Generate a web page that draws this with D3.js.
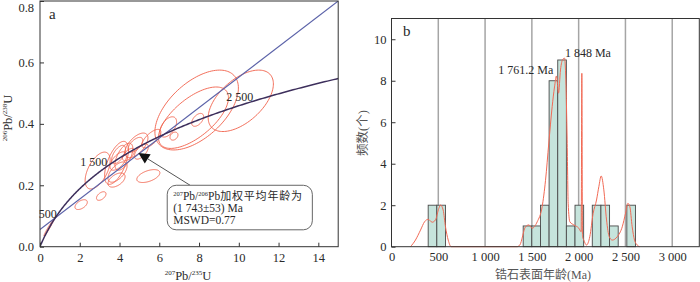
<!DOCTYPE html>
<html><head><meta charset="utf-8">
<script src="https://cdn.jsdelivr.net/npm/d3@7"></script>
<style>
body{margin:0;background:#fff}
</style></head>
<body><svg id="c" width="700" height="282"></svg>
<script>
// ---------- data: panel a (concordia) ----------
const xTicksA = [0,2,4,6,8,10,12,14];
const yTicksA = [0,0.2,0.4,0.6,0.8];
const concordiaAges = [500,1500,2500];            // Ma, labelled on curve
const concordiaLabels = ["500","1 500","2 500"];
const discordia = [[0,0.056],[15,0.80]];          // [207Pb/235U, 206Pb/238U]
// error ellipses: centre x, centre y, half-width x, half-width y, correlation
const ellCx  = [7.88,7.72,10.1,7.93,6.45,6.74,5.6,5.45,2.9,3.85,3.94,4.22,4.85,4.8,3.9,3.85,3.08,2.07,0.45,4.45,5.1,3.95];
const ellCy  = [0.445,0.42,0.475,0.413,0.39,0.36,0.352,0.23,0.248,0.273,0.279,0.293,0.33,0.332,0.243,0.217,0.165,0.137,0.062,0.30,0.31,0.30];
const ellAx  = [2.1,1.76,1.64,0.3,0.42,0.2,0.48,0.58,0.63,0.6,0.42,0.45,0.58,0.37,0.48,0.43,0.24,0.31,0.25,0.3,0.35,0.35];
const ellBy  = [0.13,0.10,0.10,0.021,0.033,0.013,0.03,0.021,0.06,0.07,0.03,0.044,0.04,0.024,0.033,0.023,0.014,0.016,0.027,0.02,0.025,0.03];
const ellRho = [0.55,0.65,0.55,0.5,0.5,0.3,0.7,0.5,0.55,0.6,0.6,0.6,0.6,0.6,0.6,0.5,0.5,0.5,0.98,0.6,0.6,0.6];
const arrowTail = [7.55,0.20], arrowTip = [4.95,0.305];
const boxLines = ["(1 743±53) Ma","MSWD=0.77"];

// ---------- data: panel b (histogram + KDE) ----------
const binLo = [392,484.3,576.6,668.9,761.2,853.5,945.8,1038.1,1130.4,1222.7,1315,1407.3,1499.6,1591.9,1684.2,1776.5,1868.8,1961.1,2053.4,2145.7,2238,2330.3,2422.6,2514.9];
const binWidth = 92.3;
const counts = [2,2,0,0,0,0,0,0,0,0,0,1,1,2,8,9,1,2,0,2,2,1,0,2];
const kdeAge = [203,256,310,353,392,435,470,506,524,552,577,606,638,
  1340,1371,1432,1468,1503,1557,1610,1646,1681,1717,1742,1763,1785,1806,1831,1849,1863,1877,1888,1906,1948,2002,2027,2034,2041,2055,2084,2119,2155,2191,2216,2241,2269,2298,2327,2359,2412,2466,2501,2526,2547,2572,2597,2626,2650];
const kdeVal = [0,0.32,0.8,1.2,1.32,1.18,1.29,1.85,2.01,1.77,0.96,0.32,0,
  0,0.08,0.96,1.05,0.89,1.2,1.93,3.2,5.0,6.75,7.7,8.23,7.4,8.52,9.04,9.09,8.04,5.15,2.09,1.2,1.05,0.89,0.72,8.36,0.5,0.32,0.08,0.48,1.61,2.25,2.9,3.41,2.74,1.29,0.48,0.32,0.48,0.96,1.61,2.09,1.93,0.96,0.32,0.08,0];
const xTicksB = [0,500,1000,1500,2000,2500,3000];
const xTickLabelsB = ["0","500","1 000","1 500","2 000","2 500","3 000"];
const yTicksB = [0,2,4,6,8,10];
const peakAges = [1761.2,1848];
const peakLabels = ["1 761.2 Ma","1 848 Ma"];

const SERIF = '"Liberation Serif","Times New Roman",Times,"DejaVu Serif",serif';
const CJK = '"Liberation Serif","Noto Sans CJK SC",serif';
const svg = d3.select("#c");

// ================= panel a =================
const xA = d3.scaleLinear().domain([0,15]).range([40,338.2]);
const yA = d3.scaleLinear().domain([0,0.8]).range([246.7,1]);
const gA = svg.append("g");
gA.append("clipPath").attr("id","clipA").append("rect")
  .attr("x",xA(0)).attr("y",yA(0.8)).attr("width",xA(15)-xA(0)).attr("height",yA(0)-yA(0.8));
const plotA = gA.append("g").attr("clip-path","url(#clipA)");

// ellipses
const ellLine = d3.line().x(d=>xA(d[0])).y(d=>yA(d[1])).curve(d3.curveLinearClosed);
ellCx.forEach((cx,i)=>{
  const pts=[];
  const r=ellRho[i], s=Math.sqrt(1-r*r);
  for(let k=0;k<120;k++){
    const t=k/120*2*Math.PI;
    pts.push([cx+ellAx[i]*Math.cos(t), ellCy[i]+ellBy[i]*(r*Math.cos(t)+s*Math.sin(t))]);
  }
  plotA.append("path").attr("d",ellLine(pts)).attr("fill","none")
    .attr("stroke","#f0604a").attr("stroke-width",0.9);
});

// discordia
plotA.append("path").attr("d",d3.line().x(d=>xA(d[0])).y(d=>yA(d[1]))(discordia))
  .attr("fill","none").attr("stroke","#5b62a8").attr("stroke-width",1.1);

// concordia curve (U decay constants)
const l238=1.55125e-10, l235=9.8485e-10;
const conc = d3.range(0,2900,10).map(t=>[Math.exp(l235*t*1e6)-1, Math.exp(l238*t*1e6)-1]);
plotA.append("path").attr("d",d3.line().x(d=>xA(d[0])).y(d=>yA(d[1]))(conc))
  .attr("fill","none").attr("stroke","#3d2f5c").attr("stroke-width",1.5);

concordiaAges.forEach((t,i)=>{
  const x=Math.exp(l235*t*1e6)-1, y=Math.exp(l238*t*1e6)-1;
  gA.append("text").attr("x",xA(x)+(i===0?4:0)).attr("y",yA(y)-(i===0?4:0))
    .attr("text-anchor","end").attr("font-size",12).text(concordiaLabels[i]);
});

// arrow
const tail=[xA(arrowTail[0]),yA(arrowTail[1])], tip=[xA(arrowTip[0]),yA(arrowTip[1])];
const ang=Math.atan2(tip[1]-tail[1],tip[0]-tail[0]);
const hl=11, hw=5.5;
const base=[tip[0]-hl*Math.cos(ang), tip[1]-hl*Math.sin(ang)];
gA.append("line").attr("x1",tail[0]).attr("y1",tail[1]).attr("x2",base[0]).attr("y2",base[1])
  .attr("stroke","#555").attr("stroke-width",1);
gA.append("path").attr("d",`M${tip[0]},${tip[1]}L${base[0]+hw*Math.sin(ang)},${base[1]-hw*Math.cos(ang)}L${base[0]-hw*Math.sin(ang)},${base[1]+hw*Math.cos(ang)}Z`)
  .attr("fill","#111");

// annotation box
gA.append("rect").attr("x",xA(6.4)).attr("y",yA(0.2)).attr("width",xA(13.7)-xA(6.4)).attr("height",yA(0.055)-yA(0.2))
  .attr("rx",9).attr("ry",9).attr("fill","#fff").attr("stroke","#666").attr("stroke-width",1);
const t1 = gA.append("text").attr("x",xA(6.7)).attr("y",199.5).attr("font-size",11.5);
t1.append("tspan").attr("font-size",6.5).attr("dy",-4).text("207");
t1.append("tspan").attr("dy",4).text("Pb/");
t1.append("tspan").attr("font-size",6.5).attr("dy",-4).text("206");
t1.append("tspan").attr("dy",4).text("Pb");
t1.append("tspan").attr("class","cjk").attr("font-size",11).attr("letter-spacing",0.8).text("加权平均年龄为");
boxLines.forEach((s,i)=>gA.append("text").attr("x",xA(6.7)).attr("y",212+i*12.3).attr("font-size",11.5).text(s));

// axes
gA.append("g").attr("transform",`translate(0,${yA(0)})`)
  .call(d3.axisBottom(xA).tickValues(xTicksA).tickSize(-4).tickPadding(6).tickFormat(d3.format("d")))
  .call(g=>{g.select(".domain").remove();g.selectAll("text").attr("font-size",12.5);g.selectAll("line").attr("stroke","#333");});
gA.append("g").attr("transform",`translate(${xA(0)},0)`)
  .call(d3.axisLeft(yA).tickValues(yTicksA).tickSize(-4).tickPadding(6).tickFormat(d3.format(".1f")))
  .call(g=>{g.select(".domain").remove();g.selectAll("text").attr("font-size",12.5);g.selectAll("line").attr("stroke","#333");
    g.selectAll(".tick").filter(d=>d===0.8).select("text").attr("dy","0.75em").attr("y",0.8);});
gA.append("rect").attr("x",xA(0)).attr("y",yA(0.8)).attr("width",xA(15)-xA(0)).attr("height",yA(0)-yA(0.8))
  .attr("fill","none").attr("stroke","#333").attr("stroke-width",1);
gA.append("text").attr("x",49).attr("y",18.5).attr("font-size",15).text("a");

// axis titles
const xt = gA.append("text").attr("x",188).attr("y",280).attr("text-anchor","middle").attr("font-size",12.5);
xt.append("tspan").attr("font-size",7).attr("dy",-5).text("207");
xt.append("tspan").attr("dy",5).text("Pb/");
xt.append("tspan").attr("font-size",7).attr("dy",-5).text("235");
xt.append("tspan").attr("dy",5).text("U");
const yt = gA.append("text").attr("transform","translate(12,118) rotate(-90)").attr("text-anchor","middle").attr("font-size",12.5);
yt.append("tspan").attr("font-size",7).attr("dy",-5).text("206");
yt.append("tspan").attr("dy",5).text("Pb/");
yt.append("tspan").attr("font-size",7).attr("dy",-5).text("238");
yt.append("tspan").attr("dy",5).text("U");

// ================= panel b =================
const xB = d3.scaleLinear().domain([0,3300]).range([391.5,700.3]);
const yB = d3.scaleLinear().domain([0,11]).range([246.7,18.5]);
const gB = svg.append("g");

// vertical grid lines
gB.selectAll(".grid").data(xTicksB.slice(1)).join("line")
  .attr("x1",d=>xB(d)).attr("x2",d=>xB(d)).attr("y1",yB(0)).attr("y2",yB(11))
  .attr("stroke","#a5a5a5").attr("stroke-width",1.5);

// bars
gB.selectAll(".bar").data(counts.map((c,i)=>({lo:binLo[i],c})).filter(d=>d.c>0)).join("rect")
  .attr("x",d=>xB(d.lo)).attr("width",d=>xB(d.lo+binWidth)-xB(d.lo))
  .attr("y",d=>yB(d.c)).attr("height",d=>yB(0)-yB(d.c))
  .attr("fill","#c6e4dc").attr("stroke","#4a4a4a").attr("stroke-width",0.9);

// KDE
const kde = kdeAge.map((a,i)=>[a,kdeVal[i]]);
gB.append("path").attr("d",d3.line().x(d=>xB(d[0])).y(d=>yB(d[1])).curve(d3.curveMonotoneX)(kde))
  .attr("fill","none").attr("stroke","#f26a55").attr("stroke-width",1);

// peak labels
gB.append("text").attr("x",xB(peakAges[0])-3).attr("y",74.3).attr("text-anchor","end").attr("font-size",12).text(peakLabels[0]);
gB.append("text").attr("x",xB(peakAges[1])+0.5).attr("y",56.7).attr("font-size",12).text(peakLabels[1]);

// axes
gB.append("g").attr("transform",`translate(0,${yB(0)})`)
  .call(d3.axisBottom(xB).tickValues(xTicksB).tickSize(0).tickPadding(5).tickFormat((d,i)=>xTickLabelsB[i]))
  .call(g=>{g.select(".domain").remove();g.selectAll("text").attr("font-size",12.5);});
gB.append("g").attr("transform",`translate(${xB(0)},0)`)
  .call(d3.axisLeft(yB).tickValues(yTicksB).tickSize(-4).tickPadding(5))
  .call(g=>{g.select(".domain").remove();g.selectAll("text").attr("font-size",12.5);g.selectAll("line").attr("stroke","#333");});
gB.append("rect").attr("x",xB(0)).attr("y",yB(11)).attr("width",xB(3300)-xB(0)-1).attr("height",yB(0)-yB(11))
  .attr("fill","none").attr("stroke","#333").attr("stroke-width",1);
gB.append("text").attr("x",403).attr("y",35.7).attr("font-size",15).text("b");

gB.append("text").attr("class","cjk").attr("x",543).attr("y",279).attr("text-anchor","middle").attr("font-size",12).attr("fill","#555").text("锆石表面年龄(Ma)");
gB.append("text").attr("class","cjk").attr("transform","translate(367,133) rotate(-90)").attr("text-anchor","middle").attr("font-size",12.5).attr("fill","#555").text("频数(个)");

// fonts & colours for all texts
svg.selectAll("text").each(function(){
  const el=d3.select(this);
  el.style("font-family", el.classed("cjk")?CJK:SERIF);
  if(!el.attr("fill")||el.attr("fill")==="currentColor") el.attr("fill","#2a2a2a");
});
svg.selectAll("tspan.cjk").style("font-family",CJK);
</script></body></html>
